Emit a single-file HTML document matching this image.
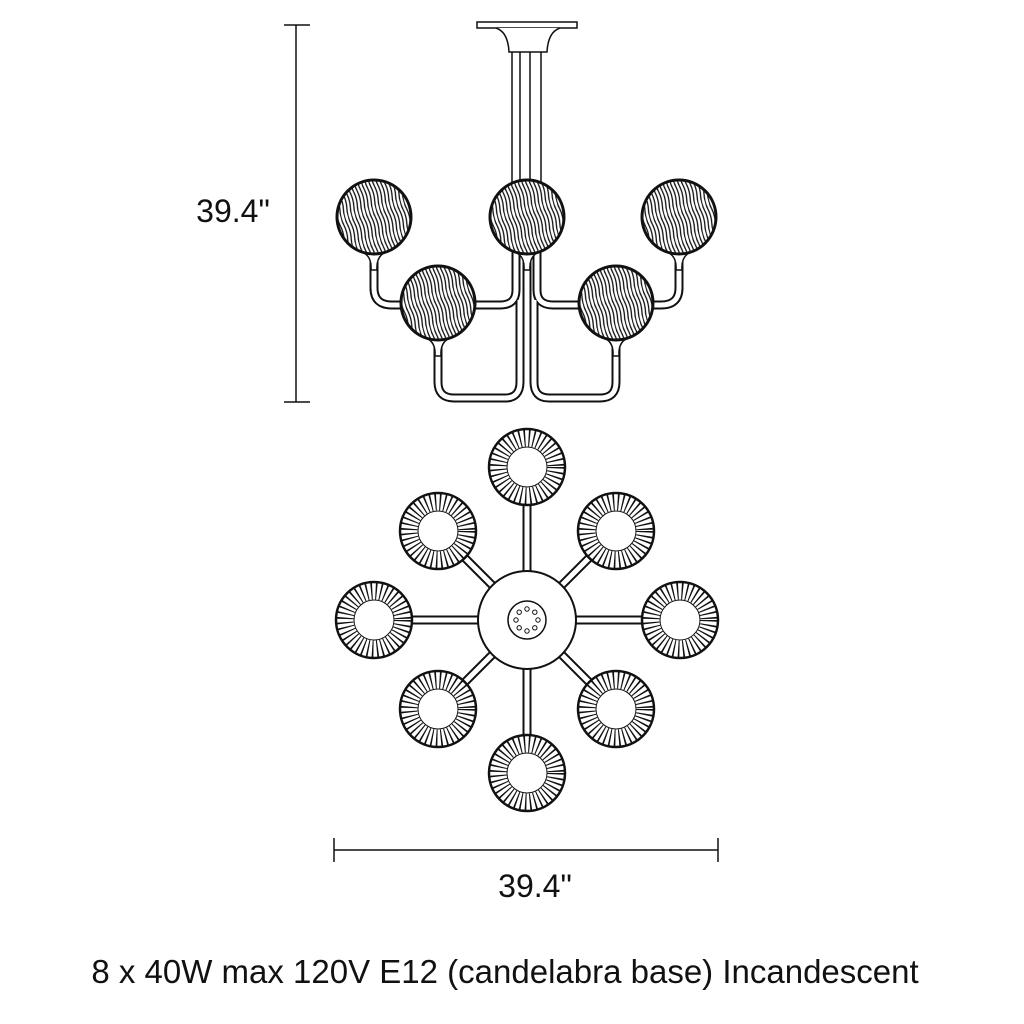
<!DOCTYPE html>
<html><head><meta charset="utf-8"><style>
html,body{margin:0;padding:0;background:#fff;}
svg{display:block}
text{font-family:"Liberation Sans",Arial,sans-serif;fill:#111}
</style></head><body>
<svg width="1024" height="1024" viewBox="0 0 1024 1024" xmlns="http://www.w3.org/2000/svg">
<defs>
<pattern id="sw" width="3.6" height="30" patternUnits="userSpaceOnUse" patternTransform="rotate(-15)">
<path d="M1.2,0 Q2.8,7.5 1.2,15 Q-0.4,22.5 1.2,30" fill="none" stroke="#111" stroke-width="1.3"/>
</pattern>
<g id="globe">
<circle r="38" fill="#fff"/>
<circle r="38" fill="url(#sw)"/>
<circle r="37" fill="none" stroke="#111" stroke-width="3"/>
</g>
<g id="ring">
<circle r="38" fill="#fff" stroke="#111" stroke-width="2.5"/>
<circle r="29" fill="none" stroke="#111" stroke-width="17" stroke-dasharray="1.4 3.2"/>
<circle r="20" fill="#fff" stroke="#111" stroke-width="1"/>
</g>
</defs>

<line x1="296" y1="25" x2="296" y2="402" stroke="#111" stroke-width="1.5"/>
<line x1="284" y1="25" x2="310" y2="25" stroke="#111" stroke-width="1.5"/>
<line x1="284" y1="402" x2="310" y2="402" stroke="#111" stroke-width="1.5"/>
<text x="233" y="222" font-size="32" text-anchor="middle">39.4"</text>

<rect x="477" y="22" width="100" height="6" fill="#fff" stroke="#111" stroke-width="1.5"/>
<path d="M496,28 Q508,32 509,52 L547,52 Q548,32 560,28" fill="#fff" stroke="#111" stroke-width="1.5"/>
<g stroke="#111" stroke-width="1.5">
<line x1="512" y1="52" x2="512" y2="185"/><line x1="520" y1="52" x2="520" y2="185"/>
<line x1="530" y1="52" x2="530" y2="185"/><line x1="541" y1="52" x2="541" y2="185"/>
</g>

<g fill="none" stroke-linecap="butt">
<g stroke="#111" stroke-width="9">
<path d="M374,250 L374,288 Q374,305 392,305 L405,305"/>
<path d="M470,305 L500,305 Q516,305 516,290 L516,250"/>
<path d="M438,338 L438,382 Q438,398 454,398 L505,398 Q520,398 520,382 L520,300"/>
<path d="M679,250 L679,288 Q679,305 661,305 L648,305"/>
<path d="M583,305 L553,305 Q537,305 537,290 L537,250"/>
<path d="M616,338 L616,382 Q616,398 600,398 L549,398 Q534,398 534,382 L534,300"/>
<path d="M527,250 L527,318"/>
</g>
<g stroke="#fff" stroke-width="5">
<path d="M374,250 L374,288 Q374,305 392,305 L405,305"/>
<path d="M470,305 L500,305 Q516,305 516,290 L516,250"/>
<path d="M438,338 L438,382 Q438,398 454,398 L505,398 Q520,398 520,382 L520,300"/>
<path d="M679,250 L679,288 Q679,305 661,305 L648,305"/>
<path d="M583,305 L553,305 Q537,305 537,290 L537,250"/>
<path d="M616,338 L616,382 Q616,398 600,398 L549,398 Q534,398 534,382 L534,300"/>
<path d="M527,250 L527,318"/>
</g>
</g>
<!-- flared necks -->
<g fill="#fff" stroke="#111" stroke-width="1.5">
<path d="M362,252 Q372,256 371,270 L377,270 Q376,256 386,252Z"/>
<path d="M667,252 Q677,256 676,270 L682,270 Q681,256 691,252Z"/>
<path d="M515,252 Q525,256 524,270 L530,270 Q529,256 539,252Z"/>
<path d="M426,338 Q436,342 435,356 L441,356 Q440,342 450,338Z"/>
<path d="M604,338 Q614,342 613,356 L619,356 Q618,342 628,338Z"/>
</g>
<use href="#globe" x="374" y="217"/>
<use href="#globe" x="527" y="217"/>
<use href="#globe" x="679" y="217"/>
<use href="#globe" x="438" y="303"/>
<use href="#globe" x="616" y="303"/>

<g stroke="#111" stroke-width="9" fill="none">
<line x1="527" y1="620" x2="527" y2="467"/><line x1="527" y1="620" x2="527" y2="773"/>
<line x1="527" y1="620" x2="374" y2="620"/><line x1="527" y1="620" x2="680" y2="620"/>
<line x1="527" y1="620" x2="438" y2="531"/><line x1="527" y1="620" x2="616" y2="531"/>
<line x1="527" y1="620" x2="438" y2="709"/><line x1="527" y1="620" x2="616" y2="709"/>
</g>
<g stroke="#fff" stroke-width="5" fill="none">
<line x1="527" y1="620" x2="527" y2="467"/><line x1="527" y1="620" x2="527" y2="773"/>
<line x1="527" y1="620" x2="374" y2="620"/><line x1="527" y1="620" x2="680" y2="620"/>
<line x1="527" y1="620" x2="438" y2="531"/><line x1="527" y1="620" x2="616" y2="531"/>
<line x1="527" y1="620" x2="438" y2="709"/><line x1="527" y1="620" x2="616" y2="709"/>
</g>
<circle cx="527" cy="620" r="49" fill="#fff" stroke="#111" stroke-width="2"/>
<circle cx="527" cy="620" r="19" fill="#fff" stroke="#111" stroke-width="1.5"/>
<g fill="#fff" stroke="#111" stroke-width="1">
<circle cx="527" cy="609" r="2.2"/><circle cx="534.8" cy="612.2" r="2.2"/><circle cx="538" cy="620" r="2.2"/><circle cx="534.8" cy="627.8" r="2.2"/>
<circle cx="527" cy="631" r="2.2"/><circle cx="519.2" cy="627.8" r="2.2"/><circle cx="516" cy="620" r="2.2"/><circle cx="519.2" cy="612.2" r="2.2"/>
</g>
<use href="#ring" x="527" y="467"/>
<use href="#ring" x="527" y="773"/>
<use href="#ring" x="374" y="620"/>
<use href="#ring" x="680" y="620"/>
<use href="#ring" x="438" y="531"/>
<use href="#ring" x="616" y="531"/>
<use href="#ring" x="438" y="709"/>
<use href="#ring" x="616" y="709"/>

<line x1="334" y1="850" x2="718" y2="850" stroke="#111" stroke-width="1.5"/>
<line x1="334" y1="838" x2="334" y2="862" stroke="#111" stroke-width="1.5"/>
<line x1="718" y1="838" x2="718" y2="862" stroke="#111" stroke-width="1.5"/>
<text x="535" y="897" font-size="32" text-anchor="middle">39.4"</text>

<text x="505" y="983" font-size="33" text-anchor="middle">8 x 40W max 120V E12 (candelabra base) Incandescent</text>
</svg>
</body></html>
